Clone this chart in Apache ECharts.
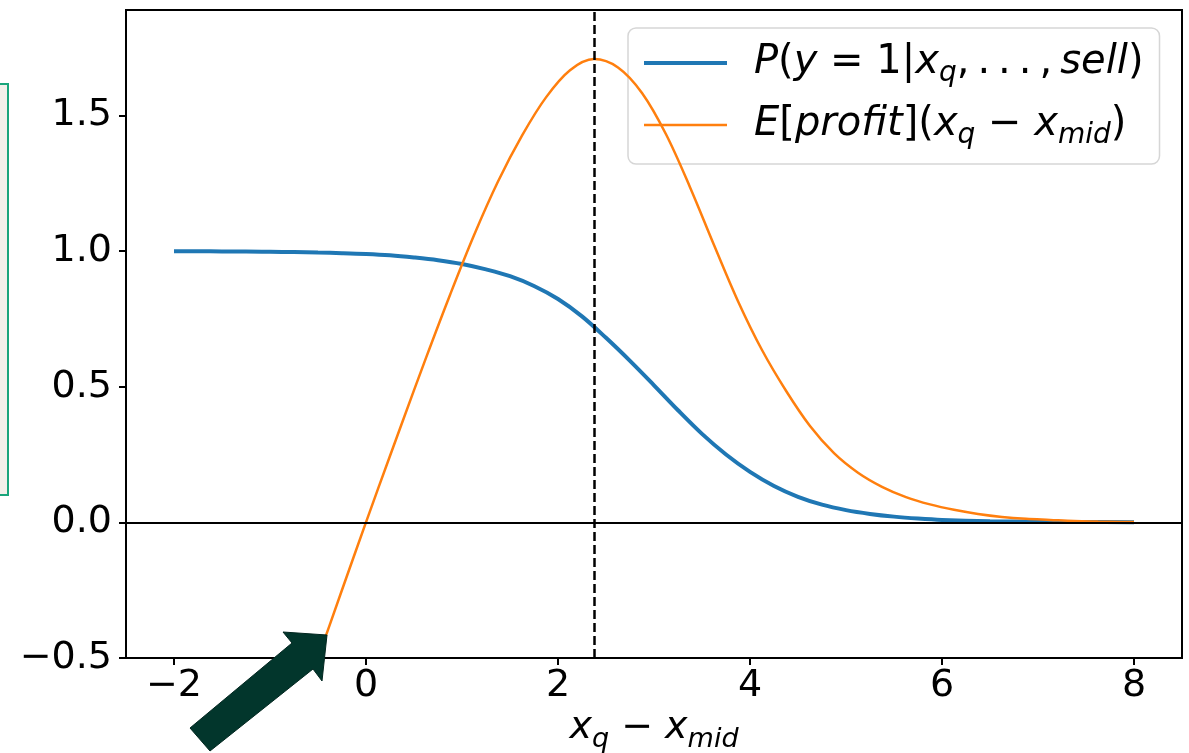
<!DOCTYPE html>
<html>
<head>
<meta charset="utf-8">
<script src="https://cdn.jsdelivr.net/npm/echarts@6/dist/echarts.min.js"></script>
<style>
  html, body { margin: 0; padding: 0; background: #ffffff; }
  #chart { width: 1189px; height: 753px; }
</style>
</head>
<body>
<div id="chart"></div>
<script>
// ---- data ----
const blueX = [-2.0, -1.75, -1.5, -1.25, -1.0, -0.75, -0.5, -0.25, 0.0, 0.25, 0.5, 0.75, 1.0, 1.25, 1.5, 1.75, 2.0, 2.25, 2.5, 2.75, 3.0, 3.25, 3.5, 3.75, 4.0, 4.25, 4.5, 4.75, 5.0, 5.25, 5.5, 5.75, 6.0, 6.5, 7.0, 7.5, 8.0];
const blueY = [0.999, 0.999, 0.998, 0.998, 0.997, 0.996, 0.994, 0.992, 0.989, 0.984, 0.976, 0.966, 0.952, 0.932, 0.907, 0.871, 0.823, 0.759, 0.680, 0.595, 0.505, 0.413, 0.326, 0.250, 0.186, 0.134, 0.094, 0.065, 0.045, 0.031, 0.021, 0.014, 0.009, 0.004, 0.002, 0.001, 0.0005];

const orangeX = [-0.625, -0.375, -0.125, 0.125, 0.375, 0.625, 0.875, 1.125, 1.375, 1.625, 1.875, 2.125, 2.375, 2.625, 2.875, 3.125, 3.375, 3.625, 3.875, 4.125, 4.375, 4.625, 4.875, 5.125, 5.375, 5.625, 5.875, 6.125, 6.375, 6.625, 6.875, 7.125, 7.375, 7.625, 7.875, 8.0];
const orangeY = [-0.625, -0.375, -0.124, 0.123, 0.366, 0.606, 0.838, 1.058, 1.256, 1.425, 1.566, 1.666, 1.707, 1.676, 1.582, 1.430, 1.235, 1.022, 0.815, 0.635, 0.485, 0.355, 0.255, 0.183, 0.131, 0.093, 0.066, 0.046, 0.031, 0.020, 0.013, 0.009, 0.005, 0.003, 0.0015, 0.001];

const xTicks = [-2, 0, 2, 4, 6, 8];
const yTicks = [-0.5, 0.0, 0.5, 1.0, 1.5];
const optimumX = 2.38;
const seriesNames = ['P', 'E'];

// ---- chart ----
const zip = (xs, ys) => xs.map((x, i) => [x, ys[i]]);
const minus = s => String(s).replace('-', '\u2212');
const FONT = 'DejaVu Sans';
const BLUE = '#1f77b4', ORANGE = '#ff7f0e';

function mathRich(size) {
  const lh = Math.round(size * 1.35);
  return {
    n: { fontSize: size, fontFamily: FONT, color: '#000', lineHeight: lh },
    i: { fontSize: size, fontFamily: FONT, fontStyle: 'italic', color: '#000', lineHeight: lh },
    s: { fontSize: Math.round(size * 0.7), fontFamily: FONT, fontStyle: 'italic', color: '#000',
         lineHeight: Math.round(size * 0.7), padding: [Math.round(size * 0.6), 0, 0, 0], verticalAlign: 'top' }
  };
}

const T = '\u2009'; // thin space
const legendText = {
  P: '{i|P}{n|(}{i|y}{n| = 1|}{i|x}{s|q}{n|,' + T + '.' + T + '.' + T + '.' + T + ',' + T + '}{i|sell}{n|)}',
  E: '{i|E}{n|[}{i|profit}{n|](}{i|x}{s|q}{n| \u2212 }{i|x}{s|mid}{n|)}'
};

const chart = echarts.init(document.getElementById('chart'), null, { renderer: 'canvas' });
chart.setOption({
  backgroundColor: '#ffffff',
  animation: false,
  grid: {
    left: 126, right: 7, top: 10, bottom: 95,
    outerBoundsMode: 'none', containLabel: false,
    show: true, borderColor: '#000', borderWidth: 2, backgroundColor: 'transparent'
  },
  xAxis: {
    type: 'value', min: -2.5, max: 8.5,
    axisLine: { show: true, onZero: false, lineStyle: { color: '#000', width: 2 } },
    axisTick: { show: true, length: 7, lineStyle: { color: '#000', width: 2 }, customValues: xTicks },
    axisLabel: { customValues: xTicks, fontSize: 38, fontFamily: FONT, color: '#000', margin: 9, formatter: v => minus(v) },
    splitLine: { show: false },
    name: '{i|x}{s|q}{n| \u2212 }{i|x}{s|mid}',
    nameLocation: 'middle', nameGap: 45, nameMoveOverlap: false,
    nameTextStyle: { rich: mathRich(38), fontSize: 38, fontFamily: FONT, color: '#000' }
  },
  yAxis: {
    type: 'value', min: -0.5, max: 1.888,
    axisLine: { show: true, onZero: false, lineStyle: { color: '#000', width: 2 } },
    axisTick: { show: true, length: 7, lineStyle: { color: '#000', width: 2 }, customValues: yTicks },
    axisLabel: { customValues: yTicks, fontSize: 38, fontFamily: FONT, color: '#000', margin: 14, formatter: v => minus(v.toFixed(1)) },
    splitLine: { show: false }
  },
  legend: {
    data: [
      { name: 'P', icon: 'path://M0,0H83V4H0Z', itemStyle: { color: BLUE } },
      { name: 'E', icon: 'path://M0,0H83V2.5H0Z', itemStyle: { color: ORANGE } }
    ],
    symbolKeepAspect: true,
    orient: 'vertical', left: 628, top: 28,
    padding: [8, 16, 14, 16],
    itemWidth: 83, itemHeight: 4, itemGap: 10,
    backgroundColor: 'rgba(255,255,255,0.8)',
    borderColor: '#d6d6d6', borderWidth: 1.5, borderRadius: 8,
    formatter: name => legendText[name],
    textStyle: { fontSize: 40, fontFamily: FONT, color: '#000', padding: [0, 0, 0, 22], rich: mathRich(40) }
  },
  series: [
    {
      name: seriesNames[0], type: 'line', data: zip(blueX, blueY),
      symbol: 'none', smooth: 0.35,
      lineStyle: { color: BLUE, width: 4 }, itemStyle: { color: BLUE }, z: 3
    },
    {
      name: seriesNames[1], type: 'line', data: zip(orangeX, orangeY),
      symbol: 'none', smooth: 0.35, clip: true,
      lineStyle: { color: ORANGE, width: 2.5 }, itemStyle: { color: ORANGE }, z: 4,
      markLine: {
        silent: true, symbol: ['none', 'none'], label: { show: false },
        data: [
          { yAxis: 0, lineStyle: { color: '#000', width: 2, type: 'solid' } },
          { xAxis: optimumX, lineStyle: { color: '#000', width: 2.5, type: [9, 4] } }
        ]
      }
    }
  ],
  graphic: [
    {
      type: 'rect', z: 50,
      shape: { x: -2, y: 84, width: 10, height: 411 },
      style: { fill: '#f2f0ea', stroke: '#19a57b', lineWidth: 2 }
    },
    {
      type: 'polygon', z: 100,
      shape: { points: [[327, 635], [283, 632], [292, 643], [190, 728], [210, 751], [313, 669], [322, 681]] },
      style: { fill: '#02362c', stroke: '#01261f', lineWidth: 1 }
    }
  ]
});
</script>
</body>
</html>
